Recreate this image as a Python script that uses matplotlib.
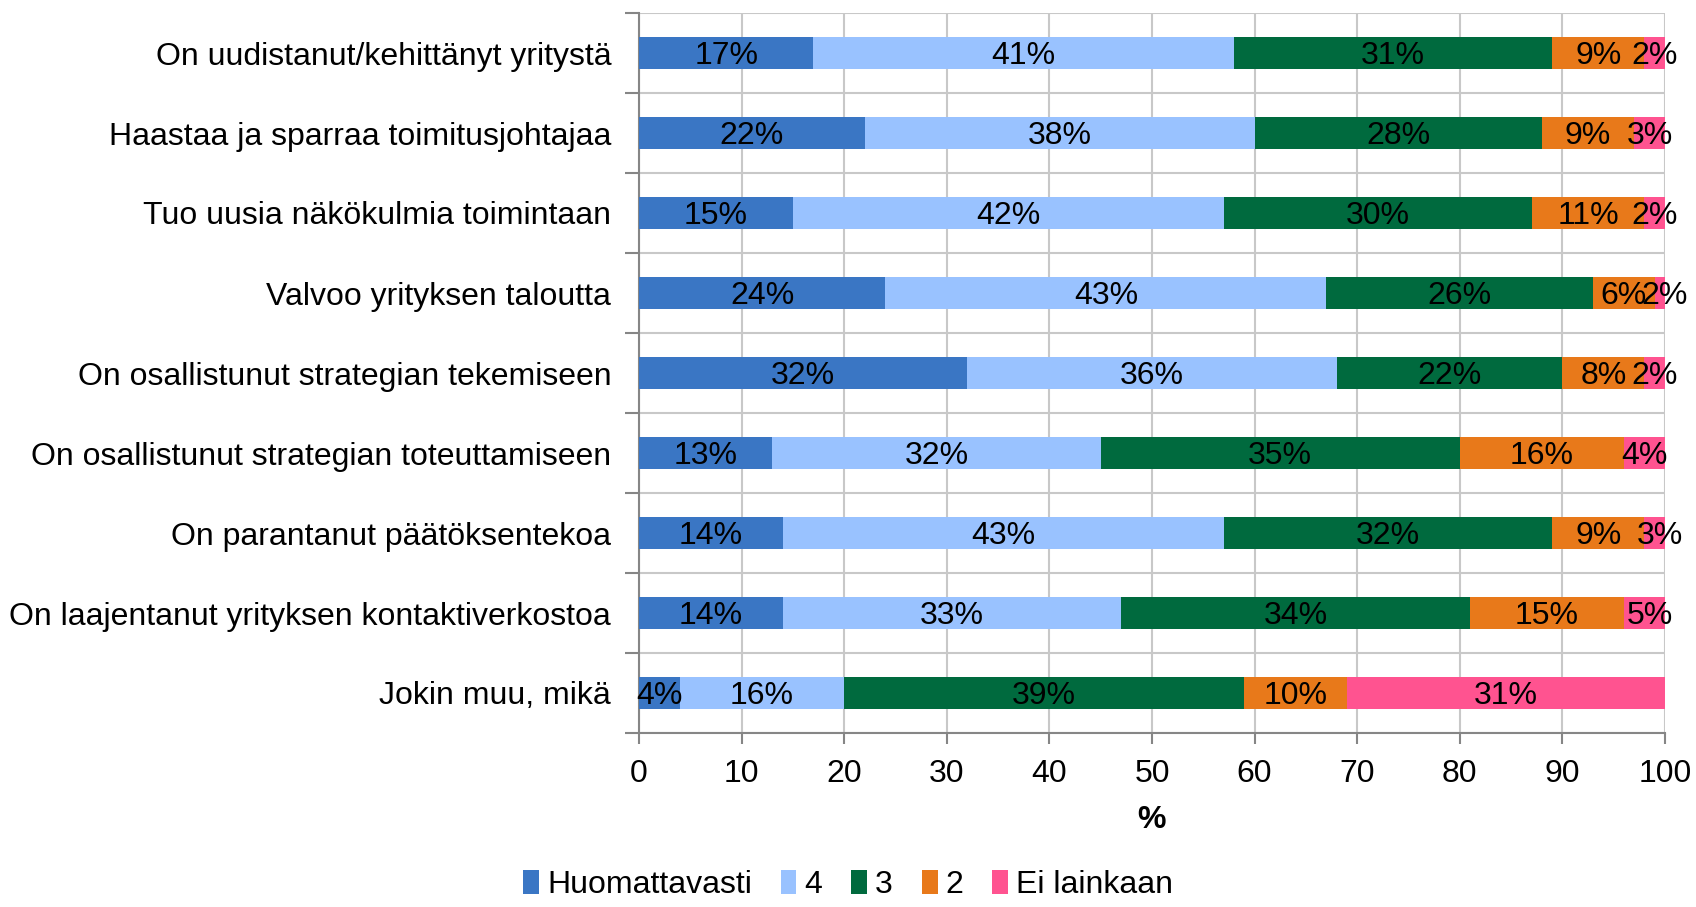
import numpy as np
import matplotlib.pyplot as plt

plt.rcParams['font.family'] = ['Liberation Sans', 'DejaVu Sans']

categories = ['On uudistanut/kehittänyt yritystä',
              'Haastaa ja sparraa toimitusjohtajaa',
              'Tuo uusia näkökulmia toimintaan',
              'Valvoo yrityksen taloutta',
              'On osallistunut strategian tekemiseen',
              'On osallistunut strategian toteuttamiseen',
              'On parantanut päätöksentekoa',
              'On laajentanut yrityksen kontaktiverkostoa',
              'Jokin muu, mikä']
huomattavasti = [17, 22, 15, 24, 32, 13, 14, 14, 4]
nelja = [41, 38, 42, 43, 36, 32, 43, 33, 16]
kolme = [31, 28, 30, 26, 22, 35, 32, 34, 39]
kaksi = [9, 9, 11, 6, 8, 16, 9, 15, 10]
ei_lainkaan = [2, 3, 2, 2, 2, 4, 3, 5, 31]

series = [huomattavasti, nelja, kolme, kaksi, ei_lainkaan]
names = ['Huomattavasti', '4', '3', '2', 'Ei lainkaan']
colors = ['#3a76c4', '#99c2ff', '#006a3e', '#e8791a', '#ff5390']
fs = 23

fig = plt.figure(figsize=(16.96, 9.07), dpi=100)
ax = fig.add_axes([639/1696, 1-733/907, (1665-639)/1696, (733-13)/907])

y = np.arange(len(categories))
left = np.zeros(len(categories))
for vals, name, col in zip(series, names, colors):
    vals = np.array(vals, dtype=float)
    ax.barh(y, vals, left=left, height=0.4, color=col, label=name, zorder=3)
    for i in range(len(y)):
        ax.text(left[i] + vals[i]/2, y[i], '%d%%' % vals[i], ha='center',
                va='center_baseline', fontsize=fs, color='black', zorder=4)
    left += vals

ax.set_ylim(len(categories) - 0.5, -0.5)
ax.set_xlim(0, 100)
ax.set_xticks(np.arange(0, 101, 10))
ax.set_yticks(np.arange(-0.5, len(categories), 1))
ax.set_yticklabels([])
ax.set_yticks(y, minor=True)
ax.set_yticklabels(categories, minor=True)
ax.tick_params(axis='y', which='minor', length=0, labelsize=fs, pad=20)
ax.tick_params(axis='y', which='major', length=10, color='#868686', width=1.5)
ax.tick_params(axis='x', length=8, color='#868686', width=1.5, labelsize=fs, pad=11)
ax.grid(True, which='major', color='#c8c8c8', lw=1.5, zorder=0)
for s in ['top', 'right']:
    ax.spines[s].set_visible(False)
for s in ['left', 'bottom']:
    ax.spines[s].set_color('#868686')
    ax.spines[s].set_linewidth(1.5)
ax.set_xlabel('%', fontsize=fs, fontweight='bold', labelpad=11)

leg = fig.legend(loc='lower center', bbox_to_anchor=(0.5, -0.024), ncol=5, frameon=False,
                 fontsize=fs, handlelength=0.5, handleheight=0.75, handletextpad=0.25,
                 columnspacing=0.9)

fig.savefig('out.png', dpi=100)
